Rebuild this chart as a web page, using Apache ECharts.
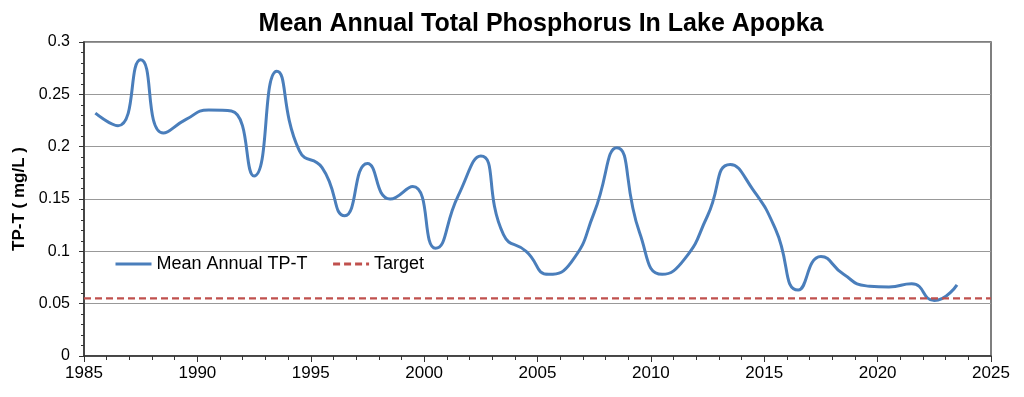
<!DOCTYPE html>
<html>
<head>
<meta charset="utf-8">
<script src="https://cdn.jsdelivr.net/npm/echarts@6/dist/echarts.min.js"></script>
<style>
html,body{margin:0;padding:0;background:#fff;}
#chart{width:1024px;height:397px;}
</style>
</head>
<body>
<div id="chart"></div>
<script>
// annual means, plotted at mid-year
var years = [1985,1986,1987,1988,1989,1990,1991,1992,1993,1994,
	1995,1996,1997,1998,1999,2000,2001,2002,2003,2004,
	2005,2006,2007,2008,2009,2010,2011,2012,2013,2014,
	2015,2016,2017,2018,2019,2020,2021,2022,2023];
var tpValues = [0.232,0.220,0.283,0.213,0.226,0.235,0.234,0.172,0.272,0.196,
	0.180,0.134,0.184,0.150,0.162,0.103,0.153,0.191,0.116,0.100,
	0.078,0.090,0.137,0.199,0.118,0.078,0.093,0.134,0.183,0.159,
	0.121,0.063,0.095,0.078,0.067,0.066,0.069,0.053,0.068];
var targetValue = 0.055;
var xRange = [1985, 2025];

var tpData = [];
for(var i=0,len=years.length;i<len;i++){
	tpData.push([years[i]+0.5, tpValues[i]]);
}
var targetData = [[xRange[0], targetValue], [xRange[1], targetValue]];

var font = "'Liberation Sans', Arial, sans-serif";
var chart = echarts.init(document.getElementById("chart"));

var option = {
	backgroundColor:'#fff',
	animation:false,
	title:{
		text:'Mean Annual Total Phosphorus In Lake Apopka',
		left:536, top:7, textAlign:'center',
		textStyle:{fontFamily:font, fontSize:25, fontWeight:'bold', color:'#000'}
	},
	legend:{
		left:114, top:255, padding:0,
		itemWidth:36, itemHeight:14, itemGap:24,
		itemStyle:{opacity:0},
		lineStyle:{width:3},
		textStyle:{fontFamily:font, fontSize:18, color:'#000'},
		data:['Mean Annual TP-T','Target']
	},
	grid:{
		left:84, right:33, top:42, bottom:41,
		show:true, borderColor:'#555', borderWidth:1.5
	},
	xAxis:{
		type:'value', min:xRange[0], max:xRange[1], interval:5,
		axisLine:{show:true, onZero:false, lineStyle:{color:'#333', width:1.5}},
		axisTick:{show:true, length:6, lineStyle:{color:'#333'}},
		minorTick:{show:true, splitNumber:5, length:4, lineStyle:{color:'#333'}},
		splitLine:{show:false},
		axisLabel:{fontFamily:font, fontSize:17, color:'#000', margin:9,
			formatter:function(v){ return String(v); }}
	},
	yAxis:{
		type:'value', min:0, max:0.3, interval:0.05,
		name:'TP-T ( mg/L )', nameLocation:'middle', nameGap:53,
		nameTextStyle:{fontFamily:font, fontSize:17, fontWeight:'bold', color:'#000'},
		axisLine:{show:true, lineStyle:{color:'#333', width:1.5}},
		axisTick:{show:true, length:5, lineStyle:{color:'#333'}},
		minorTick:{show:true, splitNumber:5, length:3, lineStyle:{color:'#333'}},
		splitLine:{show:true, lineStyle:{color:'#999', width:1.2}},
		axisLabel:{fontFamily:font, fontSize:16, color:'#000', margin:14}
	},
	series:[
		{
			name:'Mean Annual TP-T',
			type:'line',
			data:tpData,
			smooth:0.55,
			symbol:'none',
			color:'#4A7EBB',
			lineStyle:{color:'#4A7EBB', width:3}
		},
		{
			name:'Target',
			type:'line',
			data:targetData,
			symbol:'none',
			color:'#C0504D',
			lineStyle:{color:'#C0504D', width:2.2, type:[7,4]},
			z:3
		}
	]
};

chart.setOption(option);
</script>
</body>
</html>
